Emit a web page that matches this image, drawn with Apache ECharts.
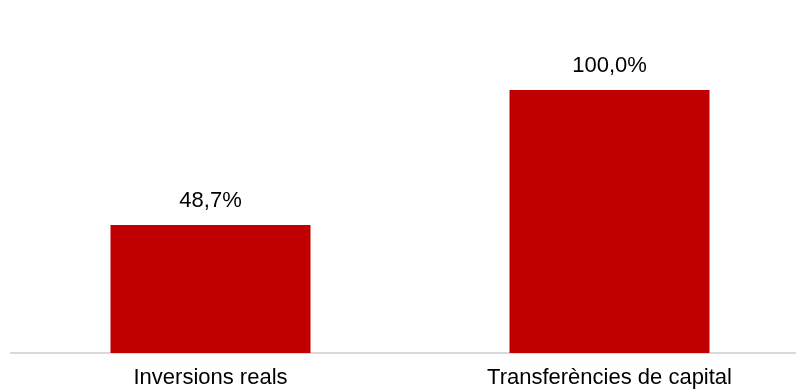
<!DOCTYPE html>
<html><head><meta charset="utf-8">
<script src="https://cdn.jsdelivr.net/npm/echarts@6/dist/echarts.min.js"></script>
<style>html,body{margin:0;padding:0;background:#fff}#c{width:796px;height:390px}</style>
</head><body><div id="c"></div>
<script>
const categories = ['Inversions reals', 'Transferències de capital'];
const values = [48.7, 100.0];
const chart = echarts.init(document.getElementById('c'));
chart.setOption({
  animation: false,
  grid: {left: 11, width: 798, top: 90, bottom: 37, outerBoundsMode: 'none', containLabel: false},
  xAxis: {
    type: 'category', data: categories,
    axisLine: {lineStyle: {color: '#D9D9D9', width: 2}},
    axisTick: {show: false},
    axisLabel: {color: '#000', fontFamily: 'Liberation Sans, Arial', fontSize: 22, margin: 14, interval: 0}
  },
  yAxis: {type: 'value', min: 0, max: 100, show: false, splitLine: {show: false}},
  series: [{
    type: 'bar', data: values, barWidth: 200,
    itemStyle: {color: '#C00000'},
    label: {show: true, position: 'top', distance: 13, color: '#000',
      fontFamily: 'Liberation Sans, Arial', fontSize: 22,
      formatter: p => p.value.toFixed(1).replace('.', ',') + '%'}
  }]
});
</script></body></html>
